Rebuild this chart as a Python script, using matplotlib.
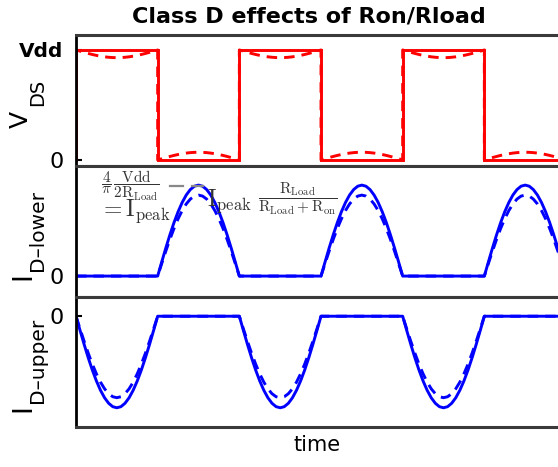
import numpy as np
import matplotlib
matplotlib.use("Agg")
import matplotlib.pyplot as plt

plt.rcParams["mathtext.fontset"] = "cm"

# half-cycle states of V_DS (1 = Vdd, 0 = ground), half period = 0.5
vds_levels = [1, 0, 1, 0, 1, 0]
# shape of one half-sine hump, read at 21 evenly spaced points
hump = [0.0, 0.156, 0.309, 0.454, 0.588, 0.707, 0.809, 0.891, 0.951, 0.988, 1.0,
        0.988, 0.951, 0.891, 0.809, 0.707, 0.588, 0.454, 0.309, 0.156, 0.0]
i_peak_ideal = 1.0    # solid
i_peak_ron = 0.89     # dashed (with Ron)
v_sag = 0.07          # V_DS drop across Ron, as fraction of Vdd

half = 0.5
hump = np.array(hump)
t_h = np.linspace(0, half, len(hump))

t_all, v_solid, v_dash, il_solid, il_dash, iu_solid, iu_dash = [], [], [], [], [], [], []
for k, lev in enumerate(vds_levels):
    t = t_h + k * half
    t_all.append(t)
    v_solid.append(np.full_like(t, lev, dtype=float))
    if lev == 1:
        v_dash.append(1 - v_sag * hump)
        il_solid.append(np.zeros_like(t)); il_dash.append(np.zeros_like(t))
        iu_solid.append(-i_peak_ideal * hump); iu_dash.append(-i_peak_ron * hump)
    else:
        v_dash.append(v_sag * hump)
        il_solid.append(i_peak_ideal * hump); il_dash.append(i_peak_ron * hump)
        iu_solid.append(np.zeros_like(t)); iu_dash.append(np.zeros_like(t))

t_all = np.concatenate([[0.0], np.concatenate(t_all)])
v_solid = np.concatenate([[0.0], np.concatenate(v_solid)])
v_dash = np.concatenate([[0.0], np.concatenate(v_dash)])
il_solid = np.concatenate([[0.0], np.concatenate(il_solid)])
il_dash = np.concatenate([[0.0], np.concatenate(il_dash)])
iu_solid = np.concatenate([[0.0], np.concatenate(iu_solid)])
iu_dash = np.concatenate([[0.0], np.concatenate(iu_dash)])

W, H = 558, 467
fig = plt.figure(figsize=(W / 100, H / 100), dpi=100)


def px_axes(top, bottom):
    return fig.add_axes([76 / W, 1 - bottom / H, 490 / W, (bottom - top) / H])


def ptext(x, y, s, **kw):
    # text placed in pixel coords (from top-left)
    return fig.text(x / W, 1 - y / H, s, **kw)


ax1 = px_axes(35, 166)
ax2 = px_axes(166, 297)
ax3 = px_axes(297, 427)

lw = 2.1
dash = (0, (3.6, 2.4))
ax1.plot(t_all, v_solid, color="red", lw=lw, solid_joinstyle="miter")
ax1.plot(t_all, v_dash, color="red", lw=lw, linestyle=dash)
ax2.plot(t_all, il_solid, color="blue", lw=lw)
ax2.plot(t_all, il_dash, color="blue", lw=lw, linestyle=dash)
ax3.plot(t_all, iu_solid, color="blue", lw=lw)
ax3.plot(t_all, iu_dash, color="blue", lw=lw, linestyle=dash)

ax1.set_ylim(-0.055, 1.136)
ax2.set_ylim(-0.23, 1.21)
ax3.set_ylim(-1.21, 0.21)

for ax in (ax1, ax2, ax3):
    ax.set_xlim(0, 3)
    ax.set_xticks([])
    for s in ("top", "bottom"):
        ax.spines[s].set_color("#3a3a3a")
        ax.spines[s].set_linewidth(2.2)
    ax.spines["left"].set_color("black")
    ax.spines["left"].set_linewidth(2.0)
    ax.spines["right"].set_visible(False)
    ax.tick_params(axis="y", direction="in", length=4, width=1.5, labelsize=16, pad=9)

ax1.set_yticks([0, 1])
ax1.set_yticklabels(["0", "Vdd"])
ax1.get_yticklabels()[1].set_fontweight("bold")
ax1.get_yticklabels()[1].set_fontsize(14.5)
ax2.set_yticks([0])
ax3.set_yticks([0])

# y labels: big letter + large subscript
rot = dict(rotation=90, rotation_mode="anchor", va="baseline")
ptext(28, 119, "V", ha="center", fontsize=18, **rot)
ptext(43, 106, "DS", ha="left", fontsize=14, **rot)
ptext(30, 276, "I", ha="center", fontsize=19, **rot)
ptext(43, 271, "D–lower", ha="left", fontsize=14.5, **rot)
ptext(30, 408, "I", ha="center", fontsize=19, **rot)
ptext(43, 403, "D–upper", ha="left", fontsize=14.5, **rot)

ax3.set_xlabel("time", fontsize=15)
ax3.xaxis.set_label_coords((317 - 76) / 490, -0.06, transform=ax3.transAxes)

ptext(309, 17, "Class D effects of Ron/Rload", ha="center", va="center",
      fontsize=16, fontweight="bold")

# legend-like annotation in the middle panel
txt_col = "#333333"
ptext(101, 186, r"$\dfrac{4}{\pi}\,\dfrac{\mathrm{Vdd}}{2\mathrm{R_{Load}}}$", ha="left", va="center",
      fontsize=11, color=txt_col)
ptext(99, 216, r"$= \mathrm{I_{peak}}$", ha="left", va="baseline", fontsize=17, color=txt_col)
for x0, x1 in ((170, 183), (192, 203)):
    fig.add_artist(plt.Line2D([x0 / W, x1 / W], [1 - 186 / H, 1 - 186 / H], color="#888888", lw=1.6))
ptext(207, 206, r"$\mathrm{I_{peak}}$", ha="left", va="baseline", fontsize=17, color=txt_col)
ptext(258, 199, r"$\dfrac{\mathrm{R_{Load}}}{\mathrm{R_{Load}+R_{on}}}$", ha="left", va="center",
      fontsize=11, color=txt_col)

fig.savefig("out.png", dpi=100)
